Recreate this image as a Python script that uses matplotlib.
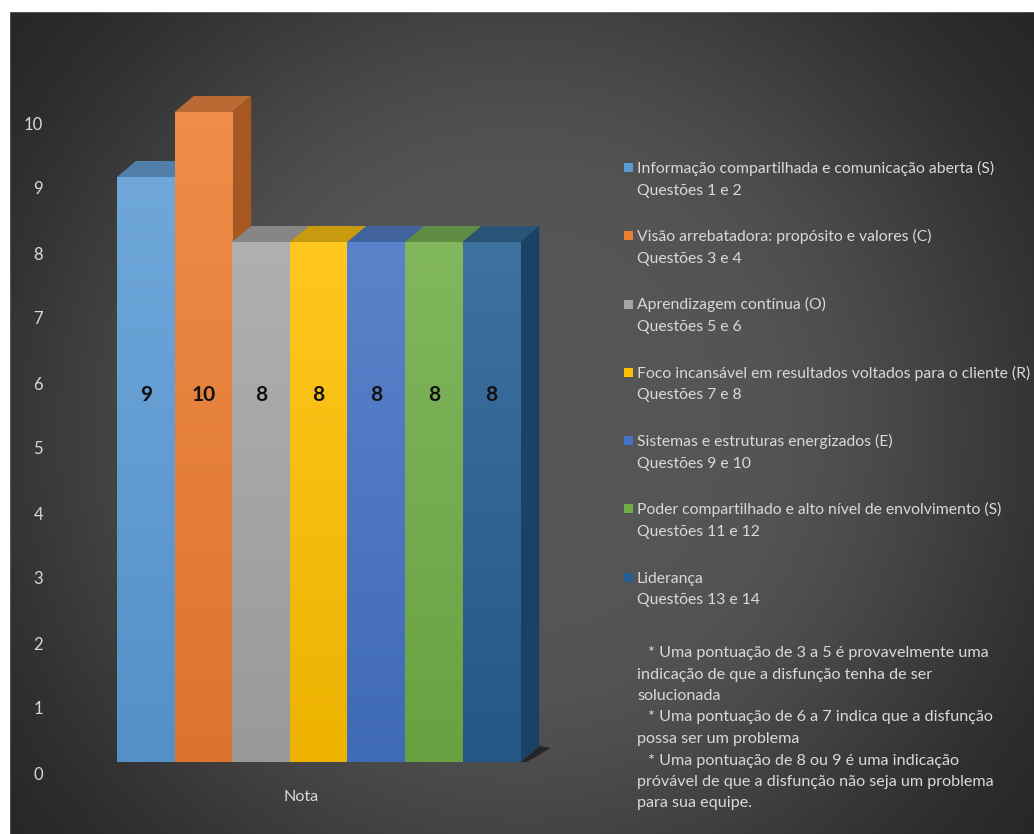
import numpy as np
import matplotlib
matplotlib.use("Agg")
import matplotlib.pyplot as plt
from matplotlib.patches import Polygon, Rectangle
from matplotlib.transforms import ScaledTranslation
from matplotlib.colors import to_rgb

# ---- data ----
categories = [
    "Informação compartilhada e comunicação aberta (S)",
    "Visão arrebatadora: propósito e valores (C)",
    "Aprendizagem contínua (O)",
    "Foco incansável em resultados voltados para o cliente (R)",
    "Sistemas e estruturas energizados (E)",
    "Poder compartilhado e alto nível de envolvimento (S)",
    "Liderança",
]
questions = [
    "Questões 1 e 2",
    "Questões 3 e 4",
    "Questões 5 e 6",
    "Questões 7 e 8",
    "Questões 9 e 10",
    "Questões 11 e 12",
    "Questões 13 e 14",
]
scores = [9, 10, 8, 8, 8, 8, 8]
colors = ["#5b9bd5", "#ed7d31", "#a5a5a5", "#ffc000", "#4472c4", "#70ad47", "#255e91"]
y_ticks = list(range(0, 11))
x_label = "Nota"
notes = [
    "* Uma pontuação de 3 a 5 é provavelmente uma",
    "indicação de que a disfunção tenha de ser",
    "solucionada",
    "* Uma pontuação de 6 a 7 indica que a disfunção",
    "possa ser um problema",
    "* Uma pontuação de 8 ou 9 é uma indicação",
    "próvável de que a disfunção não seja um problema",
    "para sua equipe.",
]

FONT = "Lato"
TEXT_COLOR = "#d9d9d9"
LEGEND_SIZE = 11.3
NOTE_SIZE = 11.6
W, H = 1034, 834


def mix(c, other, a):
    c = np.array(to_rgb(c))
    o = np.array(to_rgb(other))
    return tuple(c * (1 - a) + o * a)


fig = plt.figure(figsize=(W / 100, H / 100), dpi=100)

# ---- background: radial grey gradient in pixel coordinates ----
bg = fig.add_axes([0, 0, 1, 1])
bg.set_xlim(0, W)
bg.set_ylim(H, 0)
bg.axis("off")
yy, xx = np.mgrid[0:H, 0:W]
r = np.hypot(xx - 520, yy - 430)
t = np.clip((r - 200) / 500, 0, 1)
ss = t * t * (3 - 2 * t)
v = (85 - 47 * ss) / 255
bg.imshow(np.dstack([v, v, v]), extent=(0, W, H, 0), aspect="auto",
          interpolation="bilinear", zorder=0)
bg.add_patch(Rectangle((0, 0), W, 10.5, color="white", zorder=1))
bg.add_patch(Rectangle((0, 0), 8.5, H, color="white", zorder=1))

# ---- bar axes ----
x_unit, y_unit = 57.6, 65.0          # pixels per category / per point
x_min, x_max, y_max = -1, 8, 11
left_px, floor_px = 88.2, 762
ax = fig.add_axes([left_px / W, (H - floor_px) / H,
                   (x_max - x_min) * x_unit / W, y_max * y_unit / H])
ax.set_facecolor("none")
for s in ax.spines.values():
    s.set_visible(False)

dx = 19 / x_unit   # depth offset of the 3-D boxes
dy = 16 / y_unit
n = len(scores)
xs = np.arange(n)

# floor shadow
last = xs[-1] + 0.5
ax.add_patch(Polygon([(-0.78, -0.06), (last, -0.06), (last + dx + 0.2, dy - 0.03),
                      (last + dx, dy), (last, 0), (-0.75, 0)],
                     closed=True, facecolor="#151515", alpha=0.7,
                     edgecolor="none", zorder=1))

bars = ax.bar(xs, scores, width=1.0, color=colors, edgecolor="none")
for i, (bar, val, col) in enumerate(zip(bars, scores, colors)):
    base_z = 2 + 4 * i
    x0, x1 = xs[i] - 0.5, xs[i] + 0.5
    side = Polygon([(x1, 0), (x1, val), (x1 + dx, val + dy), (x1 + dx, dy)],
                   closed=True, facecolor=mix(col, "black", 0.3),
                   edgecolor="none", zorder=base_z)
    top = Polygon([(x0, val), (x1, val), (x1 + dx, val + dy), (x0 + dx, val + dy)],
                  closed=True, facecolor=mix(mix(col, "black", 0.18), "#808080", 0.12),
                  edgecolor="none", zorder=base_z + 1)
    ax.add_patch(side)
    ax.add_patch(top)
    bar.set_zorder(base_z + 2)
    grad = np.linspace(0, 1, 64)[:, None, None]
    c_top = np.array(mix(col, "white", 0.12))
    c_bot = np.array(mix(col, "black", 0.07))
    img = c_top * (1 - grad) + c_bot * grad
    im = ax.imshow(img, extent=(x0, x1, 0, val), origin="upper", aspect="auto",
                   interpolation="bilinear", zorder=base_z + 2.5)
    im.set_clip_path(bar)

# value labels inside the bars
label_y = 5.65
for i, val in enumerate(scores):
    ax.text(xs[i], label_y, str(val), ha="center", va="center", fontsize=15,
            fontweight="bold", color="#111111", family=FONT, zorder=100)

ax.set_xlim(x_min, x_max)
ax.set_ylim(0, y_max)
ax.set_xticks([])
ax.set_yticks(y_ticks)
ax.set_yticklabels([str(t) for t in y_ticks], family=FONT)
ax.tick_params(axis="y", length=0, pad=32.5, labelcolor=TEXT_COLOR, labelsize=12)
shift = ScaledTranslation(0, -11 / 100, fig.dpi_scale_trans)
for lab in ax.get_yticklabels():
    lab.set_transform(lab.get_transform() + shift)

bg.text(301, 797, x_label, ha="center", va="center", fontsize=NOTE_SIZE,
        color=TEXT_COLOR, family=FONT, zorder=5)

# ---- legend ----
for i, (name, q, col) in enumerate(zip(categories, questions, colors)):
    base = 173 + 68.25 * i
    bg.add_patch(Rectangle((624, base - 10), 9, 9, facecolor=col,
                           edgecolor="none", zorder=5))
    bg.text(637, base, name, ha="left", va="baseline", fontsize=LEGEND_SIZE,
            color=TEXT_COLOR, family=FONT, zorder=5)
    bg.text(637, base + 21.5, q, ha="left", va="baseline", fontsize=LEGEND_SIZE,
            color=TEXT_COLOR, family=FONT, zorder=5)

# ---- score guide ----
for k, line in enumerate(notes):
    x = 648 if line.startswith("*") else 637
    bg.text(x, 657 + 21.5 * k, line, ha="left", va="baseline", fontsize=NOTE_SIZE,
            color=TEXT_COLOR, family=FONT, zorder=5)

fig.savefig("out.png", dpi=100)
